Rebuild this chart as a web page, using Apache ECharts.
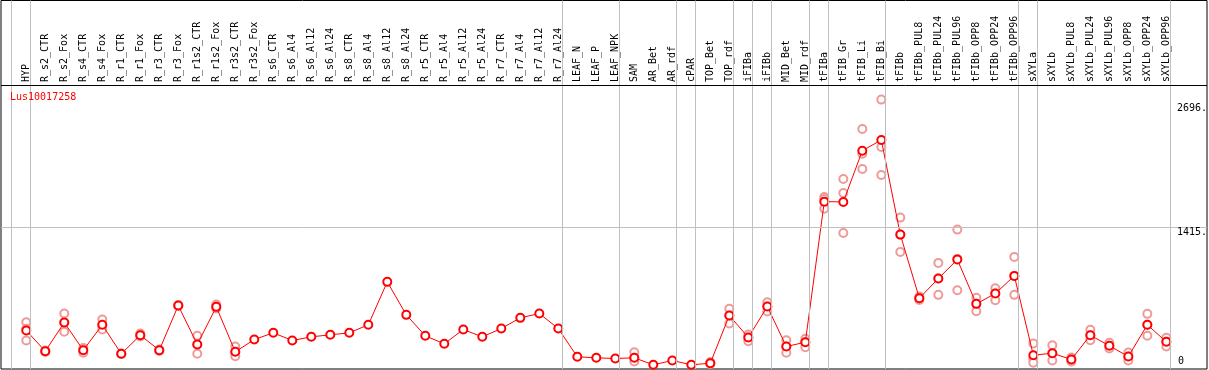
<!DOCTYPE html>
<html>
<head>
<meta charset="utf-8">
<script src="https://cdn.jsdelivr.net/npm/echarts@6/dist/echarts.min.js"></script>
<style>
  html, body { margin: 0; padding: 0; background: #fff; }
  #chart { width: 1209px; height: 370px; }
</style>
</head>
<body>
<div id="chart"></div>
<script>
// 样本名
var categories = ['HYP', 'R_s2_CTR', 'R_s2_Fox', 'R_s4_CTR', 'R_s4_Fox', 'R_r1_CTR', 'R_r1_Fox',
  'R_r3_CTR', 'R_r3_Fox', 'R_r1s2_CTR', 'R_r1s2_Fox', 'R_r3s2_CTR', 'R_r3s2_Fox', 'R_s6_CTR',
  'R_s6_Al4', 'R_s6_Al12', 'R_s6_Al24', 'R_s8_CTR', 'R_s8_Al4', 'R_s8_Al12', 'R_s8_Al24',
  'R_r5_CTR', 'R_r5_Al4', 'R_r5_Al12', 'R_r5_Al24', 'R_r7_CTR', 'R_r7_Al4', 'R_r7_Al12',
  'R_r7_Al24', 'LEAF_N', 'LEAF_P', 'LEAF_NPK', 'SAM', 'AR_Bet', 'AR_rdf', 'cPAR', 'TOP_Bet',
  'TOP_rdf', 'iFIBa', 'iFIBb', 'MID_Bet', 'MID_rdf', 'tFIBa', 'tFIB_Gr', 'tFIB_Li', 'tFIB_Bi',
  'tFIBb', 'tFIBb_PUL8', 'tFIBb_PUL24', 'tFIBb_PUL96', 'tFIBb_OPP8', 'tFIBb_OPP24', 'tFIBb_OPP96',
  'sXYLa', 'sXYLb', 'sXYLb_PUL8', 'sXYLb_PUL24', 'sXYLb_PUL96', 'sXYLb_OPP8', 'sXYLb_OPP24',
  'sXYLb_OPP96'];

// 平均值
var means = [385, 178, 465, 188, 442, 152, 338, 188, 635, 245, 622, 172, 295, 362,
  285, 322, 342, 362, 442, 872, 542, 332, 252, 395, 322, 405, 512, 555,
  405, 122, 112, 105, 112, 42, 85, 42, 58, 535, 315, 625, 225, 268,
  1675, 1672, 2185, 2292, 1345, 708, 905, 1095, 652, 755, 932,
  138, 158, 95, 338, 232, 125, 442, 272];

// 重复样本
var replicates = [
  [468, 402, 285], [185, 175, 170], [555, 465, 372], [210, 185, 162], [495, 435, 395],
  [155, 150, 150], [355, 335, 325], [195, 185, 180], [640, 635, 630], [332, 245, 152],
  [645, 625, 605], [225, 165, 128], [], [], [], [], [], [], [], [], [], [], [], [], [],
  [], [], [], [], [], [], [], [168, 112, 75], [], [], [], [70, 55, 50], [602, 535, 455],
  [345, 315, 278], [668, 625, 575], [288, 225, 162], [302, 268, 218],
  [1722, 1702, 1605], [1902, 1762, 1362], [2402, 2155, 2002], [2696, 2222, 1942],
  [1515, 1345, 1172], [725, 705, 690], [1062, 905, 742], [1395, 1102, 788],
  [712, 652, 578], [808, 755, 688], [1122, 932, 742],
  [255, 97, 62], [238, 158, 85], [115, 95, 75], [392, 338, 288], [262, 232, 205],
  [165, 125, 85], [552, 442, 332], [312, 272, 225]
];

// 分组分隔线（在该索引之后）
var groupBreaks = [-1, 0, 28, 31, 34, 35, 37, 38, 39, 41, 42, 45, 52, 53, 60];
var refValue = 1415;
var valueLabels = ['2696.', '1415.', '0'];
var geneName = 'Lus10017258';

var FONT = '"DejaVu Sans Mono", monospace';

var meanData = means.map(function (v, i) { return [i, v]; });
var repData = [];
replicates.forEach(function (arr, i) {
  arr.forEach(function (v) { repData.push([i, v]); });
});

var chart = echarts.init(document.getElementById('chart'), null, { renderer: 'canvas' });

var option = {
  animation: false,
  backgroundColor: '#fff',
  grid: [
    { left: 1, right: 2, top: 0.5, bottom: 1, show: true, borderColor: '#000', borderWidth: 1, backgroundColor: 'transparent' },
    { left: 16.8, width: 1159, top: 0, height: 83, show: false }
  ],
  xAxis: [{
    type: 'value', gridIndex: 0, min: -1.33, max: 62.14,
    show: false, splitLine: { show: false }
  }, {
    type: 'category', gridIndex: 1, data: categories, position: 'bottom',
    boundaryGap: true,
    axisLine: { show: false }, axisTick: { show: false }, splitLine: { show: false },
    axisLabel: {
      inside: true, rotate: 90, margin: 1, interval: 0,
      fontFamily: FONT, fontSize: 10, color: '#000'
    }
  }],
  yAxis: [{
    type: 'value', gridIndex: 0, min: 0, max: 3688, show: false, splitLine: { show: false }
  }, {
    type: 'value', gridIndex: 1, show: false
  }],
  graphic: [
    { type: 'text', left: 10, top: 92, z: 100, style: { text: geneName, fill: '#ff0000', font: '10px ' + FONT } },
    { type: 'text', left: 1177, top: 103, z: 100, style: { text: valueLabels[0], fill: '#000', font: '10px ' + FONT } },
    { type: 'text', left: 1177, top: 227, z: 100, style: { text: valueLabels[1], fill: '#000', font: '10px ' + FONT } },
    { type: 'text', left: 1178, top: 356, z: 100, style: { text: valueLabels[2], fill: '#000', font: '10px ' + FONT } }
  ],
  series: [{
    name: 'replicates',
    type: 'scatter',
    xAxisIndex: 0, yAxisIndex: 0,
    data: repData,
    symbol: 'emptyCircle',
    symbolSize: 8,
    z: 2,
    itemStyle: { color: '#ee9a9a', borderColor: '#ee9a9a', borderWidth: 1, opacity: 1 },
    markLine: {
      silent: true,
      symbol: 'none',
      animation: false,
      label: { show: false },
      lineStyle: { color: '#c0c0c0', type: 'solid', width: 1 },
      data: groupBreaks.map(function (b) { return { xAxis: b + 0.22 }; }).concat([
        { yAxis: refValue },
        { yAxis: 2839, lineStyle: { color: '#000', width: 1, type: 'solid' } }
      ])
    }
  }, {
    name: 'mean',
    type: 'line',
    xAxisIndex: 0, yAxisIndex: 0,
    data: meanData,
    symbol: 'emptyCircle',
    symbolSize: 8,
    z: 3,
    lineStyle: { color: '#ff0000', width: 1 },
    itemStyle: { color: '#ff0000', borderColor: '#ee0000', borderWidth: 1 }
  }]
};

chart.setOption(option);
</script>
</body>
</html>
